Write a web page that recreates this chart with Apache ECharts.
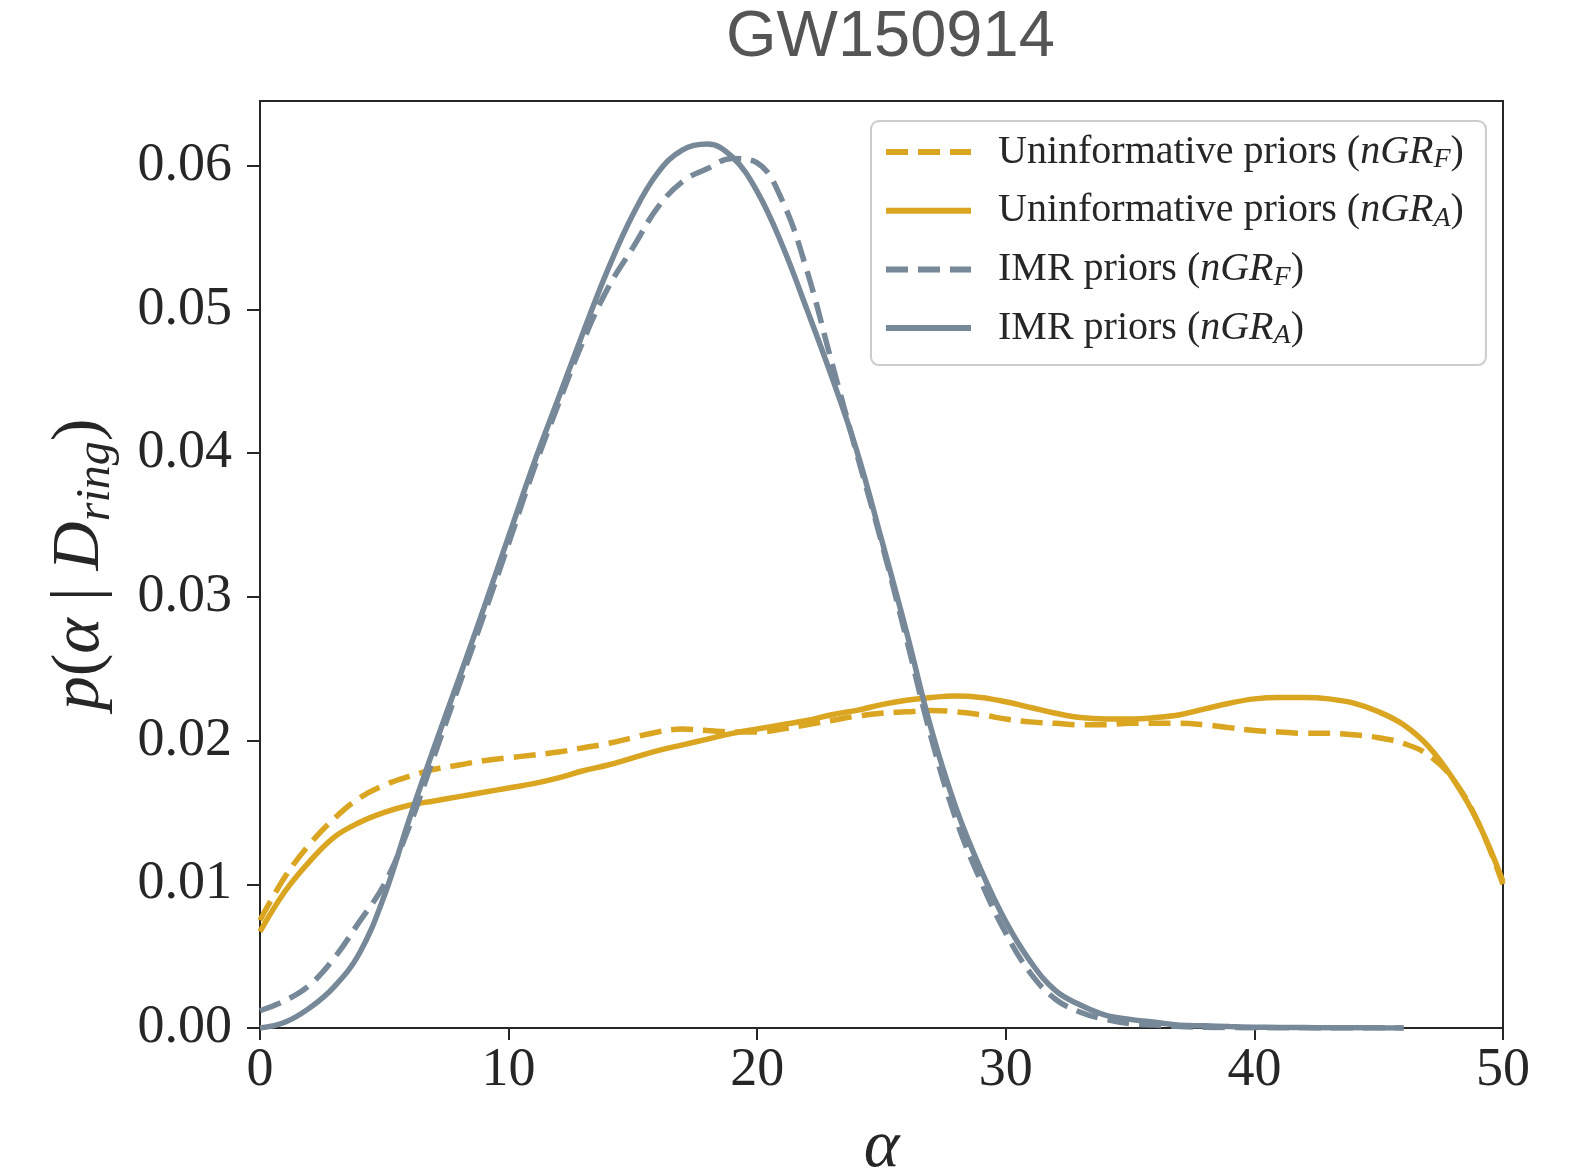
<!DOCTYPE html>
<html>
<head>
<meta charset="utf-8">
<title>GW150914</title>
<script src="https://cdn.jsdelivr.net/npm/echarts@6.0.0/dist/echarts.min.js"></script>
<style>
  html, body { margin: 0; padding: 0; background: #fff; }
  #chart { width: 1577px; height: 1168px; }
</style>
</head>
<body>
<div id="chart"></div>
<script>
// alpha grid
const alpha = [0, 1, 2, 3, 4, 5, 6, 7, 8, 9, 10, 11, 12, 13, 14, 15, 16, 17, 18, 19, 20,
  21, 22, 23, 24, 25, 26, 27, 28, 29, 30, 31, 32, 33, 34, 35, 36, 37, 38, 39, 40,
  41, 42, 43, 44, 45, 46, 47, 48, 49, 50]

// Uninformative priors (nGR_F) - dashed gold
const uninfF = [0.0075, 0.0105, 0.0128, 0.0146, 0.0160, 0.0169, 0.0175, 0.0180, 0.0183, 0.0186, 0.0188,
  0.0190, 0.0192, 0.0195, 0.0198, 0.0202, 0.0206, 0.0208, 0.0207, 0.0206, 0.0206,
  0.0208, 0.0211, 0.0214, 0.0217, 0.0219, 0.0220, 0.0221, 0.0220, 0.0218, 0.0215,
  0.0213, 0.0212, 0.0211, 0.0211, 0.0212, 0.0212, 0.0212, 0.0211, 0.0209, 0.0207,
  0.0206, 0.0205, 0.0205, 0.0204, 0.0202, 0.0198, 0.0190, 0.0173, 0.0143, 0.0100]

// Uninformative priors (nGR_A) - solid gold
const uninfA = [0.0067, 0.0095, 0.0116, 0.0133, 0.0143, 0.0150, 0.0155, 0.0158, 0.0161, 0.0164, 0.0167,
  0.0170, 0.0174, 0.0179, 0.0183, 0.0188, 0.0193, 0.0197, 0.0201, 0.0205, 0.0208,
  0.0211, 0.0214, 0.0218, 0.0221, 0.0225, 0.0228, 0.0230, 0.0231, 0.0230, 0.0227,
  0.0223, 0.0219, 0.0216, 0.0215, 0.0215, 0.0216, 0.0218, 0.0222, 0.0226, 0.0229,
  0.0230, 0.0230, 0.0229, 0.0226, 0.0220, 0.0211, 0.0196, 0.0173, 0.0143, 0.0102]

// IMR priors (nGR_F) - dashed gray
const imrF = [0.0012, 0.0019, 0.0030, 0.0049, 0.0074, 0.0100, 0.0140, 0.0189, 0.0238, 0.0287, 0.0337,
  0.0388, 0.0434, 0.0478, 0.0515, 0.0543, 0.0571, 0.0589, 0.0598, 0.0605, 0.0602,
  0.0576, 0.0527, 0.0463, 0.0400, 0.0338, 0.0271, 0.0202, 0.0145, 0.0102, 0.0066,
  0.0038, 0.0020, 0.0011, 0.0006, 0.0003, 0.0002, 0.0001, 0.00005, 0.00003, 0.00002,
  0.00001, 0.00001, 0, 0, 0, 0, null, null, null, null]

// IMR priors (nGR_A) - solid gray
const imrA = [0.0000, 0.0004, 0.0014, 0.0029, 0.0052, 0.0092, 0.0145, 0.0195, 0.0243, 0.0292, 0.0342,
  0.0392, 0.0438, 0.0484, 0.0528, 0.0566, 0.0595, 0.0611, 0.0615, 0.0606, 0.0582,
  0.0545, 0.0500, 0.0453, 0.0402, 0.0340, 0.0276, 0.0208, 0.0153, 0.0110, 0.0074,
  0.0046, 0.0026, 0.0016, 0.0009, 0.0006, 0.0004, 0.0002, 0.00015, 0.0001, 0.00006,
  0.00004, 0.00003, 0.00002, 0.00001, 0.00001, 0, null, null, null, null]

const xTicks = [0, 10, 20, 30, 40, 50]
const yTicks = [0, 0.01, 0.02, 0.03, 0.04, 0.05, 0.06]

const seriesNames = [
  'Uninformative priors (nGRF)',
  'Uninformative priors (nGRA)',
  'IMR priors (nGRF)',
  'IMR priors (nGRA)'
]

const GOLD = '#DAA520'
const SLATE = '#778899'
const SERIF = '"Liberation Serif", "DejaVu Serif", serif'
const AXIS_COLOR = '#262626'

function pairs(ys) {
  return alpha.map((a, i) => [a, ys[i]]).filter(d => d[1] !== null)
}

function makeSeries(name, ys, color, dashed) {
  return {
    name: name,
    type: 'line',
    data: pairs(ys),
    showSymbol: false,
    symbol: 'none',
    smooth: 0.4,
    lineStyle: {
      color: color,
      width: 5.5,
      type: dashed ? [22, 10] : 'solid',
      cap: 'butt'
    },
    itemStyle: { color: color },
    emphasis: { disabled: true }
  }
}

// legend label: "Uninformative priors (nGR_F)" with italic nGR and subscript
function legendText(name) {
  const sub = name.charAt(name.length - 2)
  const head = name.slice(0, name.indexOf('(') + 1)
  return '{n|' + head + '}{i|nGR}{s|' + sub + '}{n|)}'
}

const chart = echarts.init(document.getElementById('chart'))

const option = {
  backgroundColor: '#ffffff',
  animation: false,
  title: {
    text: 'GW150914',
    left: 726,
    top: 6,
    padding: 0,
    textStyle: {
      fontFamily: '"Liberation Sans", Arial, sans-serif',
      fontSize: 65,
      fontWeight: 'normal',
      color: '#555555'
    }
  },
  legend: {
    orient: 'vertical',
    left: 871,
    top: 121,
    padding: [9, 22, 15, 12],
    itemWidth: 85,
    itemHeight: 20,
    itemGap: 14.7,
    backgroundColor: '#ffffff',
    borderColor: '#cccccc',
    borderWidth: 2,
    borderRadius: 8,
    data: seriesNames,
    lineStyle: { width: 6 },
    itemStyle: { opacity: 0 },
    formatter: legendText,
    textStyle: {
      color: AXIS_COLOR,
      fontFamily: SERIF,
      fontSize: 40,
      lineHeight: 44,
      padding: [0, 0, 0, 22],
      rich: {
        n: { fontFamily: SERIF, fontSize: 40, lineHeight: 44, color: AXIS_COLOR },
        i: { fontFamily: SERIF, fontStyle: 'italic', fontSize: 40, lineHeight: 44, color: AXIS_COLOR },
        s: { fontFamily: SERIF, fontStyle: 'italic', fontSize: 28, lineHeight: 24, verticalAlign: 'bottom', color: AXIS_COLOR }
      }
    }
  },
  grid: {
    left: 260,
    right: 74,
    top: 101,
    bottom: 140,
    outerBoundsMode: 'none',
    containLabel: false,
    show: true,
    borderColor: AXIS_COLOR,
    borderWidth: 2
  },
  xAxis: {
    type: 'value',
    min: 0,
    max: 50,
    interval: 10,
    name: '{i|α}',
    nameLocation: 'middle',
    nameGap: 86,
    nameTextStyle: {
      rich: {
        i: { fontFamily: SERIF, fontStyle: 'italic', fontSize: 68, color: AXIS_COLOR }
      }
    },
    splitLine: { show: false },
    axisLine: { lineStyle: { color: AXIS_COLOR, width: 2 } },
    axisTick: { show: true, inside: false, length: 12, lineStyle: { color: AXIS_COLOR, width: 2 }, customValues: xTicks },
    axisLabel: {
      customValues: xTicks,
      margin: 16,
      fontFamily: SERIF,
      fontSize: 54,
      color: AXIS_COLOR
    }
  },
  yAxis: {
    type: 'value',
    min: 0,
    max: 0.0645,
    name: '{i|p}{n|(}{i|α}{n| | }{i|D}{s|ring}{n|)}',
    nameLocation: 'middle',
    nameGap: 140,
    nameTextStyle: {
      rich: {
        i: { fontFamily: SERIF, fontStyle: 'italic', fontSize: 68, lineHeight: 80, color: AXIS_COLOR },
        n: { fontFamily: SERIF, fontSize: 68, lineHeight: 80, color: AXIS_COLOR },
        s: { fontFamily: SERIF, fontStyle: 'italic', fontSize: 48, lineHeight: 40, verticalAlign: 'bottom', color: AXIS_COLOR }
      }
    },
    splitLine: { show: false },
    axisLine: { show: true, lineStyle: { color: AXIS_COLOR, width: 2 } },
    axisTick: { show: true, inside: false, length: 13, lineStyle: { color: AXIS_COLOR, width: 2 }, customValues: yTicks },
    axisLabel: {
      customValues: yTicks,
      margin: 28,
      fontFamily: SERIF,
      fontSize: 54,
      color: AXIS_COLOR,
      formatter: v => v.toFixed(2)
    }
  },
  series: [
    makeSeries(seriesNames[0], uninfF, GOLD, true),
    makeSeries(seriesNames[1], uninfA, GOLD, false),
    makeSeries(seriesNames[2], imrF, SLATE, true),
    makeSeries(seriesNames[3], imrA, SLATE, false)
  ]
}

chart.setOption(option)
</script>
</body>
</html>
